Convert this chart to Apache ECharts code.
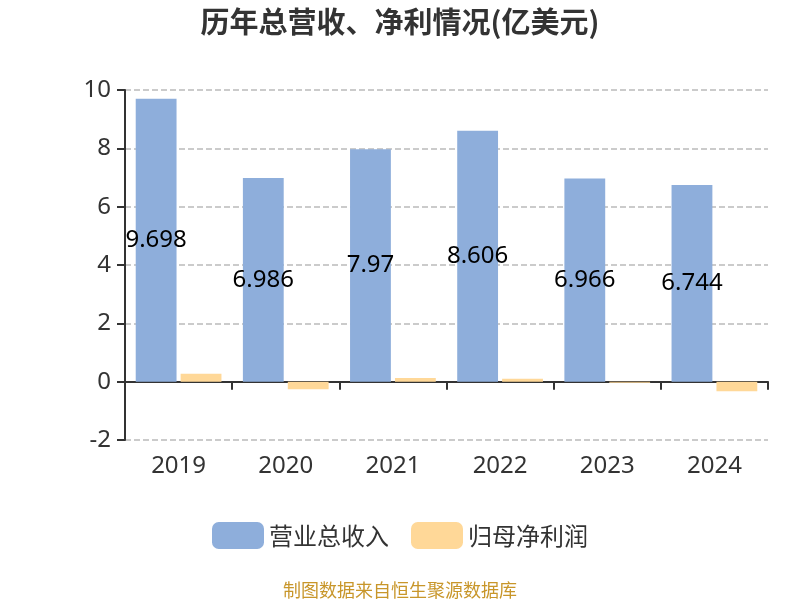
<!DOCTYPE html>
<html>
<head>
<meta charset="utf-8">
<script src="https://cdn.jsdelivr.net/npm/echarts@6/dist/echarts.min.js"></script>
<style>
  html, body { margin: 0; padding: 0; background: #fff; }
  #chart { width: 800px; height: 600px; }
</style>
</head>
<body>
<div id="chart"></div>
<script>
// 年份
const years = ["2019", "2020", "2021", "2022", "2023", "2024"];
// 营业总收入 (亿美元)
const revenue = [9.698, 6.986, 7.97, 8.606, 6.966, 6.744];
// 归母净利润 (亿美元), 图上无标签, 按柱高估读
const netProfit = [0.27, -0.26, 0.13, 0.1, -0.04, -0.33];

const chart = echarts.init(document.getElementById("chart"));
chart.setOption({
  title: {
    text: "历年总营收、净利情况(亿美元)",
    left: "center",
    top: 2,
    textStyle: { fontSize: 29, fontWeight: "bold", color: "#333", fontFamily: "Noto Sans CJK SC" },
  },
  legend: {
    bottom: 46,
    itemWidth: 52,
    itemHeight: 27,
    itemGap: 22,
    textStyle: { fontSize: 24, color: "#333", fontFamily: "Noto Sans CJK SC" },
    data: ["营业总收入", "归母净利润"],
  },
  graphic: [
    {
      type: "text",
      left: "center",
      bottom: 1,
      style: { text: "制图数据来自恒生聚源数据库", fontSize: 18, fill: "#c8962a", fontFamily: "Noto Sans CJK SC" },
    },
  ],
  grid: { left: 125, right: 32, top: 90, bottom: 160 },
  xAxis: {
    type: "category",
    data: years,
    axisLine: { onZero: true, lineStyle: { color: "#333", width: 2 } },
    axisTick: { show: true, length: 8, lineStyle: { color: "#333", width: 2 } },
    axisLabel: { fontSize: 24, color: "#333", margin: 14, fontFamily: "Noto Sans" },
  },
  yAxis: {
    type: "value",
    min: -2,
    max: 10,
    interval: 2,
    axisLine: { show: true, lineStyle: { color: "#333", width: 2 } },
    axisTick: { show: true, length: 8, lineStyle: { color: "#333", width: 2 } },
    axisLabel: { fontSize: 24, color: "#333", margin: 14, fontFamily: "Noto Sans" },
    splitLine: { lineStyle: { type: "dashed", color: "#bbb", width: 1.5 } },
  },
  series: [
    {
      name: "营业总收入",
      type: "bar",
      data: revenue,
      barGap: "10%",
      barCategoryGap: "20%",
      itemStyle: { color: "#8eaedb" },
      label: { show: true, position: "inside", fontSize: 24, color: "#000", fontFamily: "Noto Sans" },
    },
    {
      name: "归母净利润",
      type: "bar",
      data: netProfit,
      itemStyle: { color: "#ffd898" },
    },
  ],
});
</script>
</body>
</html>
